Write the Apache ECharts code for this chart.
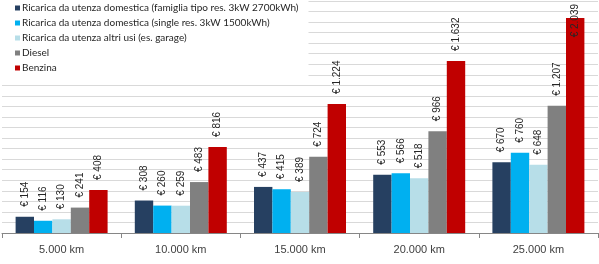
<!DOCTYPE html>
<html><head><meta charset="utf-8">
<script src="https://cdn.jsdelivr.net/npm/echarts@6/dist/echarts.min.js"></script>
<style>html,body{margin:0;padding:0;background:#fff}#c{width:599px;height:264px}</style>
</head><body><div id="c"></div>
<script>
const categories = ['5.000 km', '10.000 km', '15.000 km', '20.000 km', '25.000 km'];
const seriesNames = [
  'Ricarica da utenza domestica (famiglia tipo res. 3kW 2700kWh)',
  'Ricarica da utenza domestica (single res. 3kW 1500kWh)',
  'Ricarica da utenza altri usi (es. garage)',
  'Diesel',
  'Benzina'
];
const famiglia = [154, 308, 437, 553, 670];
const single = [116, 260, 415, 566, 760];
const altriUsi = [130, 259, 389, 518, 648];
const diesel = [241, 483, 724, 966, 1207];
const benzina = [408, 816, 1224, 1632, 2039];
const colors = ['#264061', '#00B0F0', '#B7DEE8', '#808080', '#C00000'];
const allValues = [famiglia, single, altriUsi, diesel, benzina];

function fmt(v) {
  return '€ ' + String(v).replace(/\B(?=(\d{3})+(?!\d))/g, '.');
}
const font = '"Liberation Sans", Arial, sans-serif';

const chart = echarts.init(document.getElementById('c'), null, {renderer: 'canvas'});
chart.setOption({
  animation: false,
  textStyle: {fontFamily: font},
  grid: {left: 2, right: 1, top: 1, bottom: 31, containLabel: false},
  legend: {
    orient: 'vertical', left: 2, top: 0,
    padding: [2, 10, 5, 13],
    backgroundColor: '#fff',
    icon: 'rect', itemWidth: 5, itemHeight: 5, itemGap: 3,
    textStyle: {fontSize: 10, color: '#262626', fontFamily: 'Lato, sans-serif', lineHeight: 12, padding: [0, 0, 0, -3]},
    data: seriesNames
  },
  xAxis: {
    type: 'category', data: categories,
    axisLine: {lineStyle: {color: '#868686'}},
    axisTick: {show: true, length: 5, lineStyle: {color: '#868686'}},
    axisLabel: {fontSize: 11, color: '#404040', margin: 11, fontFamily: font}
  },
  yAxis: {
    type: 'value', min: 0, max: 2200, interval: 100,
    axisLabel: {show: false}, axisLine: {show: false}, axisTick: {show: false},
    splitLine: {lineStyle: {color: '#D9D9D9'}}
  },
  series: allValues.map((vals, i) => ({
    name: seriesNames[i], type: 'bar', barGap: 0, barWidth: 18.4,
    itemStyle: {color: colors[i]},
    label: {
      show: true, position: 'top', rotate: 90, align: 'left', verticalAlign: 'middle',
      distance: 10, fontSize: 10, color: '#262626', fontFamily: font,
      formatter: p => fmt(p.value)
    },
    data: vals.map(v => (i === 4 && v > 2000)
      ? {value: v, label: {position: ['50%', -14], align: 'right', verticalAlign: 'middle'}}
      : v)
  }))
});
</script></body></html>
